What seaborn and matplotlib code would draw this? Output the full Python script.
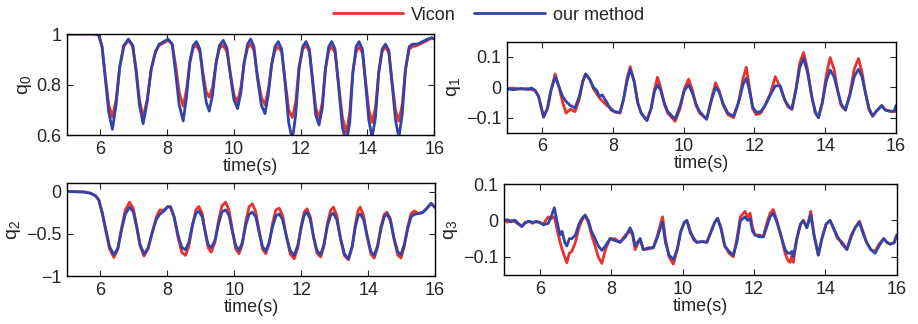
import pandas as pd
import seaborn as sns
import matplotlib
matplotlib.use('Agg')
import matplotlib.pyplot as plt
from matplotlib.lines import Line2D

# values (time in s)
t_q0 = [5.0, 5.8, 5.95, 6.05, 6.15, 6.25, 6.36, 6.47, 6.58, 6.7, 6.84, 6.97, 7.07, 7.17, 7.28,
        7.4, 7.52, 7.65, 7.76, 7.9, 8.03, 8.15, 8.25, 8.36, 8.48, 8.58, 8.68, 8.78, 8.88, 8.98,
        9.08, 9.17, 9.26, 9.36, 9.47, 9.57, 9.68, 9.79, 9.9, 10.0, 10.11, 10.21, 10.31, 10.41,
        10.5, 10.6, 10.7, 10.82, 10.93, 11.03, 11.13, 11.23, 11.33, 11.43, 11.53, 11.64, 11.75,
        11.85, 11.95, 12.06, 12.16, 12.26, 12.35, 12.45, 12.55, 12.65, 12.74, 12.84, 12.93, 13.03,
        13.13, 13.25, 13.37, 13.47, 13.56, 13.66, 13.75, 13.85, 13.94, 14.04, 14.14, 14.24, 14.34,
        14.44, 14.54, 14.64, 14.74, 14.84, 14.94, 15.04, 15.14, 15.25, 15.35, 15.5, 15.65, 15.8,
        15.92, 16.0]
q0_vicon = [1.0, 1.0, 0.995, 0.95, 0.83, 0.72, 0.672, 0.74, 0.87, 0.95, 0.975, 0.95, 0.86, 0.74, 0.67,
            0.74, 0.86, 0.93, 0.955, 0.965, 0.975, 0.96, 0.88, 0.77, 0.714, 0.78, 0.89, 0.945, 0.955, 0.93,
            0.84, 0.77, 0.75, 0.79, 0.89, 0.945, 0.955, 0.93, 0.84, 0.76, 0.73, 0.79, 0.89, 0.945,
            0.96, 0.935, 0.84, 0.75, 0.72, 0.78, 0.88, 0.935, 0.95, 0.93, 0.82, 0.7, 0.67,
            0.73, 0.87, 0.94, 0.955, 0.93, 0.83, 0.71, 0.665, 0.73, 0.86, 0.935, 0.95, 0.925,
            0.81, 0.67, 0.61, 0.69, 0.85, 0.93, 0.95, 0.925, 0.82, 0.7, 0.65, 0.71, 0.85,
            0.93, 0.95, 0.925, 0.81, 0.7, 0.655, 0.72, 0.86, 0.94, 0.95, 0.955, 0.965, 0.975,
            0.985, 0.98]
q0_ours = [1.0, 1.0, 0.997, 0.95, 0.82, 0.69, 0.623, 0.72, 0.87, 0.955, 0.98, 0.955, 0.85, 0.72, 0.645,
           0.73, 0.86, 0.93, 0.96, 0.97, 0.98, 0.96, 0.85, 0.72, 0.656, 0.75, 0.89, 0.955, 0.97, 0.94,
           0.82, 0.73, 0.695, 0.76, 0.89, 0.955, 0.975, 0.945, 0.83, 0.74, 0.705, 0.77, 0.89, 0.96,
           0.98, 0.95, 0.83, 0.72, 0.685, 0.76, 0.88, 0.95, 0.97, 0.94, 0.81, 0.65, 0.58,
           0.68, 0.86, 0.95, 0.97, 0.94, 0.82, 0.68, 0.64, 0.71, 0.86, 0.95, 0.97, 0.94,
           0.8, 0.63, 0.57, 0.65, 0.84, 0.95, 0.97, 0.94, 0.81, 0.66, 0.59, 0.67, 0.85,
           0.94, 0.96, 0.935, 0.8, 0.66, 0.59, 0.68, 0.86, 0.95, 0.96, 0.96, 0.97, 0.98,
           0.985, 0.98]

t_q1 = [5.0, 5.2, 5.4, 5.6, 5.7, 5.8, 5.9, 6.04, 6.15, 6.25, 6.37, 6.48, 6.58, 6.68, 6.8, 6.93,
        7.05, 7.15, 7.23, 7.35, 7.45, 7.54, 7.62, 7.7, 7.83, 7.95, 8.06, 8.2, 8.3, 8.4, 8.49,
        8.6, 8.7, 8.8, 8.96, 9.08, 9.17, 9.26, 9.35, 9.45, 9.55, 9.76, 9.9, 10.02, 10.14,
        10.25, 10.35, 10.45, 10.65, 10.78, 10.9, 11.0, 11.12, 11.25, 11.41, 11.55, 11.68,
        11.77, 11.86, 11.95, 12.05, 12.18, 12.3, 12.45, 12.59, 12.73, 12.85, 12.95, 13.06,
        13.18, 13.28, 13.39, 13.5, 13.62, 13.72, 13.81, 13.92, 14.03, 14.14, 14.25, 14.35,
        14.45, 14.57, 14.7, 14.82, 14.94, 15.04, 15.14, 15.24, 15.34, 15.45, 15.6, 15.7,
        15.85, 15.95, 16.0]
q1_vicon = [-0.005, -0.003, -0.006, -0.004, -0.008, -0.01, -0.03, -0.098, -0.07, -0.01, 0.044, 0.0,
            -0.05, -0.085, -0.072, -0.08, -0.04, 0.02, 0.044, 0.025, -0.005, -0.02, -0.035, -0.045,
            -0.06, -0.07, -0.082, -0.085, -0.04, 0.03, 0.068, 0.02, -0.05, -0.085, -0.108, -0.07,
            -0.01, 0.033, 0.0, -0.055, -0.085, -0.112, -0.07, -0.005, 0.027, -0.01, -0.06, -0.085,
            -0.105, -0.04, 0.015, -0.01, -0.06, -0.09, -0.1, -0.05, 0.03, 0.066, 0.0, -0.07,
            -0.09, -0.085, -0.06, -0.02, 0.035, 0.0, -0.04, -0.065, -0.072, 0.0, 0.08, 0.115,
            0.06, -0.03, -0.085, -0.1, -0.05, 0.04, 0.098, 0.06, -0.01, -0.06, -0.075, -0.02,
            0.06, 0.095, 0.05, -0.02, -0.075, -0.095, -0.078, -0.06, -0.075, -0.078, -0.08, -0.078]
q1_ours = [-0.005, -0.008, -0.004, -0.007, -0.002, -0.01, -0.03, -0.098, -0.07, -0.01, 0.035, 0.0,
           -0.03, -0.047, -0.06, -0.068, -0.03, 0.02, 0.044, 0.025, 0.0, -0.01, -0.03, -0.025,
           -0.05, -0.075, -0.08, -0.083, -0.04, 0.02, 0.06, 0.02, -0.05, -0.085, -0.11, -0.07,
           -0.015, 0.008, -0.01, -0.05, -0.08, -0.105, -0.06, -0.01, 0.008, -0.02, -0.055, -0.08,
           -0.105, -0.045, 0.0, -0.015, -0.055, -0.085, -0.095, -0.05, 0.01, 0.03, -0.01, -0.065,
           -0.082, -0.08, -0.06, -0.025, 0.005, 0.005, -0.04, -0.06, -0.072, -0.005, 0.065, 0.095,
           0.05, -0.03, -0.08, -0.1, -0.05, 0.02, 0.057, 0.035, -0.01, -0.055, -0.075, -0.025,
           0.035, 0.06, 0.035, -0.02, -0.07, -0.095, -0.078, -0.06, -0.075, -0.08, -0.078, -0.06]

t_q2 = [5.0, 5.5, 5.7, 5.85, 5.95, 6.05, 6.15, 6.27, 6.4, 6.52, 6.62, 6.74, 6.87, 6.98, 7.08,
        7.18, 7.3, 7.42, 7.55, 7.67, 7.77, 7.9, 8.0, 8.09, 8.2, 8.32, 8.43, 8.54, 8.64, 8.75,
        8.85, 8.94, 9.04, 9.14, 9.22, 9.31, 9.42, 9.53, 9.63, 9.74, 9.84, 9.94, 10.04, 10.14,
        10.24, 10.34, 10.44, 10.54, 10.64, 10.74, 10.84, 10.94, 11.04, 11.14, 11.24, 11.34,
        11.44, 11.55, 11.67, 11.79, 11.9, 12.0, 12.09, 12.17, 12.27, 12.37, 12.47, 12.58,
        12.68, 12.78, 12.88, 12.96, 13.06, 13.17, 13.29, 13.41, 13.52, 13.62, 13.7, 13.76,
        13.86, 13.97, 14.08, 14.18, 14.28, 14.38, 14.48, 14.56, 14.66, 14.77, 14.88, 14.98,
        15.08, 15.18, 15.28, 15.38, 15.5, 15.62, 15.75, 15.88, 16.0]
q2_vicon = [0.0, -0.005, -0.02, -0.05, -0.1, -0.25, -0.45, -0.68, -0.78, -0.68, -0.45, -0.22, -0.126,
            -0.2, -0.4, -0.64, -0.764, -0.68, -0.48, -0.3, -0.22, -0.22, -0.18, -0.18, -0.3, -0.55,
            -0.72, -0.756, -0.65, -0.4, -0.22, -0.177, -0.26, -0.5, -0.67, -0.717, -0.6, -0.34,
            -0.17, -0.126, -0.22, -0.45, -0.68, -0.736, -0.62, -0.36, -0.18, -0.146, -0.24, -0.46,
            -0.68, -0.736, -0.62, -0.38, -0.22, -0.197, -0.28, -0.52, -0.74, -0.795, -0.66, -0.4,
            -0.24, -0.205, -0.3, -0.55, -0.73, -0.776, -0.64, -0.38, -0.22, -0.185, -0.28, -0.55,
            -0.76, -0.807, -0.66, -0.38, -0.22, -0.185, -0.28, -0.53, -0.74, -0.787, -0.66, -0.42,
            -0.27, -0.244, -0.32, -0.56, -0.75, -0.787, -0.65, -0.42, -0.26, -0.23, -0.26, -0.25,
            -0.2, -0.14, -0.19]
q2_ours = [0.0, -0.005, -0.02, -0.05, -0.1, -0.25, -0.43, -0.65, -0.75, -0.67, -0.47, -0.27, -0.185,
           -0.24, -0.42, -0.62, -0.74, -0.67, -0.48, -0.33, -0.27, -0.23, -0.185, -0.18, -0.3, -0.52,
           -0.66, -0.69, -0.6, -0.39, -0.26, -0.232, -0.3, -0.5, -0.63, -0.665, -0.58, -0.38,
           -0.24, -0.217, -0.28, -0.47, -0.64, -0.697, -0.6, -0.4, -0.27, -0.244, -0.3, -0.48,
           -0.65, -0.705, -0.6, -0.42, -0.29, -0.264, -0.33, -0.52, -0.7, -0.756, -0.63, -0.42,
           -0.28, -0.244, -0.33, -0.54, -0.7, -0.748, -0.62, -0.41, -0.28, -0.256, -0.33, -0.55,
           -0.74, -0.795, -0.65, -0.41, -0.29, -0.264, -0.33, -0.53, -0.71, -0.756, -0.64, -0.44,
           -0.3, -0.264, -0.34, -0.55, -0.71, -0.748, -0.62, -0.44, -0.3, -0.27, -0.26, -0.25,
           -0.2, -0.14, -0.19]

t_q3 = [5.0, 5.1, 5.2, 5.3, 5.4, 5.5, 5.6, 5.7, 5.8, 5.9, 6.0, 6.1, 6.24, 6.32, 6.41, 6.5, 6.57,
        6.63, 6.7, 6.76, 6.83, 6.9, 7.0, 7.1, 7.18, 7.27, 7.36, 7.45, 7.55, 7.64, 7.74, 7.84,
        7.97, 8.1, 8.25, 8.4, 8.53, 8.6, 8.67, 8.74, 8.81, 8.9, 9.05, 9.18, 9.3, 9.38, 9.44,
        9.52, 9.62, 9.74, 9.85, 9.95, 10.05, 10.12, 10.22, 10.32, 10.4, 10.55, 10.68, 10.8,
        10.9, 10.98, 11.08, 11.18, 11.3, 11.42, 11.52, 11.62, 11.75, 11.82, 11.89, 11.96,
        12.03, 12.15, 12.26, 12.35, 12.45, 12.54, 12.64, 12.75, 12.87, 12.95, 13.01, 13.06,
        13.1, 13.2, 13.3, 13.38, 13.48, 13.59, 13.68, 13.8, 13.9, 14.02, 14.13, 14.22, 14.34,
        14.47, 14.6, 14.72, 14.83, 14.95, 15.05, 15.15, 15.27, 15.39, 15.5, 15.63, 15.72,
        15.81, 15.92, 16.0]
q3_vicon = [0.0, -0.005, 0.0, -0.003, -0.01, -0.015, -0.005, -0.003, -0.008, -0.002, -0.006, -0.01,
            0.01, 0.005, 0.01, -0.03, -0.06, -0.08, -0.1, -0.116, -0.09, -0.085, -0.06, -0.02, 0.0,
            0.013, -0.005, -0.04, -0.07, -0.1, -0.118, -0.08, -0.05, -0.05, -0.06, -0.04, -0.03,
            -0.04, -0.08, -0.065, -0.05, -0.08, -0.078, -0.075, -0.04, -0.01, 0.01, -0.05, -0.1,
            -0.12, -0.08, -0.03, -0.005, 0.0, -0.03, -0.055, -0.06, -0.058, -0.06, -0.03, -0.005,
            0.006, -0.02, -0.07, -0.09, -0.1, -0.05, 0.01, 0.025, 0.01, 0.02, -0.02, -0.04, -0.04,
            -0.045, -0.01, 0.02, 0.03, 0.0, -0.04, -0.09, -0.11, -0.115, -0.095, -0.115, -0.05,
            -0.01, 0.0, -0.02, 0.025, -0.04, -0.095, -0.05, -0.01, 0.0, -0.02, -0.05, -0.06,
            -0.08, -0.04, -0.02, -0.002, -0.03, -0.06, -0.08, -0.085, -0.065, -0.05, -0.06,
            -0.065, -0.06, -0.04]
q3_ours = [0.0, 0.002, -0.004, 0.001, -0.008, -0.017, -0.006, -0.002, -0.005, -0.004, -0.005, -0.012,
           -0.008, 0.01, 0.035, -0.01, -0.04, -0.03, -0.06, -0.07, -0.05, -0.05, -0.04, -0.01, 0.005,
           0.015, 0.0, -0.03, -0.05, -0.07, -0.082, -0.07, -0.05, -0.055, -0.06, -0.045, -0.02,
           -0.035, -0.07, -0.06, -0.05, -0.08, -0.075, -0.075, -0.045, -0.02, -0.005, -0.06, -0.095,
           -0.107, -0.08, -0.03, -0.005, 0.0, -0.035, -0.05, -0.06, -0.058, -0.06, -0.03, -0.005,
           0.006, -0.025, -0.07, -0.085, -0.095, -0.06, 0.0, 0.01, 0.0, 0.005, -0.03, -0.04, -0.045,
           -0.045, -0.02, 0.01, 0.02, -0.005, -0.04, -0.08, -0.09, -0.09, -0.085, -0.1, -0.05,
           -0.01, 0.0, -0.02, 0.015, -0.04, -0.095, -0.05, -0.01, 0.0, -0.02, -0.045, -0.065,
           -0.08, -0.045, -0.02, -0.005, -0.035, -0.06, -0.08, -0.09, -0.07, -0.05, -0.06,
           -0.065, -0.062, -0.04]

x_ticks = [6, 8, 10, 12, 14, 16]
RED = '#e8322d'
BLUE = '#3344a8'

sns.set_style('ticks')
plt.rcParams['font.family'] = ['Liberation Sans', 'DejaVu Sans']
plt.rcParams['mathtext.default'] = 'regular'

fig = plt.figure(figsize=(9.18, 3.24), dpi=100)

panels = [
    # t, vicon, ours, ylim, yticks, ytick labels, ylabel, axes rect
    (t_q0, q0_vicon, q0_ours, (0.6, 1.0), [0.6, 0.8, 1.0], ['0.6', '0.8', '1'], 'q$_0$',
     [0.073, 0.583, 0.400, 0.312]),
    (t_q1, q1_vicon, q1_ours, (-0.15, 0.15), [-0.1, 0, 0.1], ['\u22120.1', '0', '0.1'], 'q$_1$',
     [0.552, 0.590, 0.424, 0.281]),
    (t_q2, q2_vicon, q2_ours, (-1.0, 0.1), [-1, -0.5, 0], ['\u22121', '\u22120.5', '0'], 'q$_2$',
     [0.073, 0.148, 0.401, 0.287]),
    (t_q3, q3_vicon, q3_ours, (-0.15, 0.1), [-0.1, 0, 0.1], ['\u22120.1', '0', '0.1'], 'q$_3$',
     [0.549, 0.151, 0.428, 0.281]),
]

for t, vicon, ours, ylim, yticks, ylabels, ylab, rect in panels:
    ax = fig.add_axes(rect)
    n = len(t)
    df = pd.DataFrame({
        'time': t + t,
        'value': vicon + ours,
        'source': ['Vicon'] * n + ['our method'] * n,
    })
    sns.lineplot(data=df, x='time', y='value', hue='source',
                 palette={'Vicon': RED, 'our method': BLUE},
                 estimator=None, sort=False, linewidth=2, legend=False, ax=ax)
    ax.set_xlim(5, 16)
    ax.set_ylim(*ylim)
    ax.set_xticks(x_ticks)
    ax.set_xticklabels([str(v) for v in x_ticks])
    ax.set_yticks(yticks)
    ax.set_yticklabels(ylabels)
    ax.set_xlabel('time(s)', fontsize=13, labelpad=0)
    ax.set_ylabel(ylab, fontsize=14, labelpad=2)
    ax.tick_params(direction='in', top=True, right=True, length=4, width=0.8,
                   labelsize=13, pad=4)
    for sp in ax.spines.values():
        sp.set_visible(True)
        sp.set_linewidth(1)
        sp.set_color('black')

handles = [Line2D([], [], color=RED, linewidth=2), Line2D([], [], color=BLUE, linewidth=2)]
fig.legend(handles, ['Vicon', 'our method'], loc='upper center', bbox_to_anchor=(0.532, 1.03),
           ncol=2, frameon=False, fontsize=13, handlelength=3.9, handletextpad=0.45,
           columnspacing=1.0)

plt.savefig('out.png', dpi=100)
plt.close()
